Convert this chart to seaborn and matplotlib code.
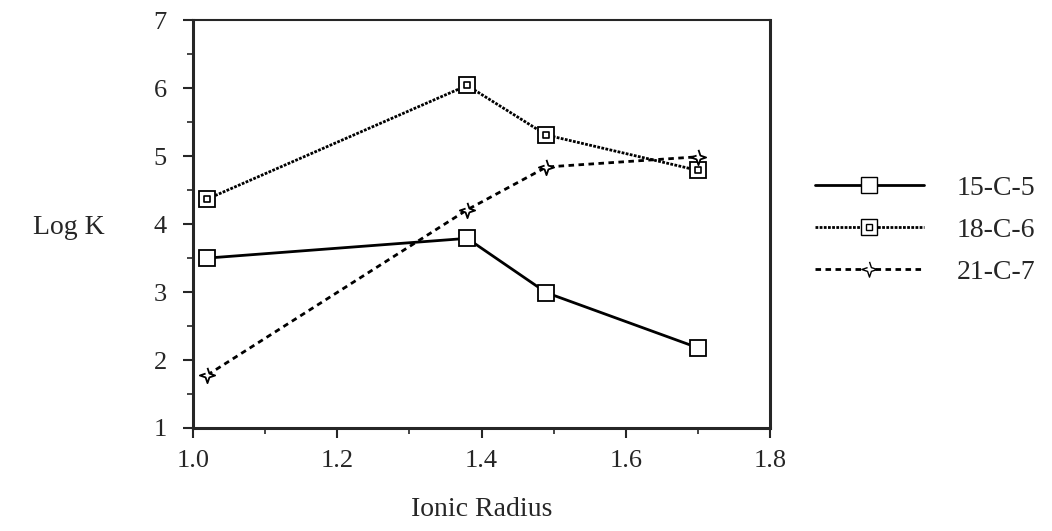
import pandas as pd
import matplotlib
matplotlib.use("Agg")
import matplotlib.pyplot as plt
import seaborn as sns
from matplotlib.lines import Line2D
from matplotlib.ticker import MultipleLocator, FormatStrFormatter

# data
radius_15 = [1.02, 1.38, 1.49, 1.70]
logk_15 = [3.50, 3.79, 2.99, 2.18]
radius_18 = [1.02, 1.38, 1.49, 1.70]
logk_18 = [4.37, 6.04, 5.31, 4.79]
radius_21 = [1.02, 1.38, 1.49, 1.70]
logk_21 = [1.78, 4.21, 4.84, 4.99]
names = ["15-C-5", "18-C-6", "21-C-7"]

df = pd.concat([
    pd.DataFrame({"radius": radius_15, "logk": logk_15, "ether": names[0]}),
    pd.DataFrame({"radius": radius_18, "logk": logk_18, "ether": names[1]}),
    pd.DataFrame({"radius": radius_21, "logk": logk_21, "ether": names[2]}),
])

sns.set_style("ticks")
plt.rcParams['font.family'] = ['Liberation Serif', 'DejaVu Serif']

star = [(0, 1), (0.25, 0.25), (1, 0), (0.25, -0.25), (0, -1), (-0.25, -0.25), (-1, 0), (-0.25, 0.25)]
palette = {n: "black" for n in names}
dashes = {names[0]: "", names[1]: (1.0, 0.5), names[2]: (2.0, 1.6)}
markers = {names[0]: "s", names[1]: "s", names[2]: star}

fig = plt.figure(figsize=(10.52, 5.31), dpi=100)
ax = fig.add_axes([0.1835, 0.194, 0.5485, 0.768])

sns.lineplot(data=df, x="radius", y="logk", hue="ether", style="ether",
             palette=palette, dashes=dashes, markers=markers, markersize=11,
             markerfacecolor="white", markeredgecolor="black", markeredgewidth=1.3,
             linewidth=2, legend=False, ax=ax)
# inner square of the 18-C-6 marker
sns.scatterplot(data=df[df["ether"] == names[1]], x="radius", y="logk", marker="s",
                s=18, facecolor="white", edgecolor="black", linewidth=1.2,
                legend=False, zorder=5, ax=ax)

ax.set_xlim(1.0, 1.8)
ax.set_ylim(1, 7)
ax.xaxis.set_major_locator(MultipleLocator(0.2))
ax.xaxis.set_minor_locator(MultipleLocator(0.1))
ax.xaxis.set_major_formatter(FormatStrFormatter("%.1f"))
ax.yaxis.set_major_locator(MultipleLocator(1))
ax.yaxis.set_minor_locator(MultipleLocator(0.5))
ax.tick_params(which="major", length=7, width=1.5, labelsize=19, direction="out", pad=9)
ax.tick_params(axis="y", which="major", pad=12)
ax.tick_params(which="minor", length=4, width=1.2, direction="out")
for side in ["left", "right", "bottom"]:
    ax.spines[side].set_linewidth(2.2)
ax.spines["top"].set_linewidth(1.5)

ax.set_xlabel("Ionic Radius", fontsize=20, labelpad=18)
ax.set_ylabel("Log K", fontsize=20, rotation=0, labelpad=0)
ax.yaxis.set_label_coords(-0.215, 0.46)

handles = [
    Line2D([], [], color="black", lw=2, marker="s", ms=11, mfc="white", mec="black"),
    (Line2D([], [], color="black", lw=2, ls=(0, (1.0, 0.5)), marker="s", ms=11, mfc="white", mec="black"),
     Line2D([], [], ls="none", marker="s", ms=4, mfc="white", mec="black")),
    Line2D([], [], color="black", lw=2, ls=(0, (2.0, 1.6)), marker=star, ms=11, mfc="white", mec="black"),
]
ax.legend(handles, names, loc="center left", bbox_to_anchor=(1.035, 0.485), frameon=False,
          fontsize=20, handlelength=3.9, handletextpad=1.2, labelspacing=0.6, numpoints=1)

fig.savefig("out.png", dpi=100)
